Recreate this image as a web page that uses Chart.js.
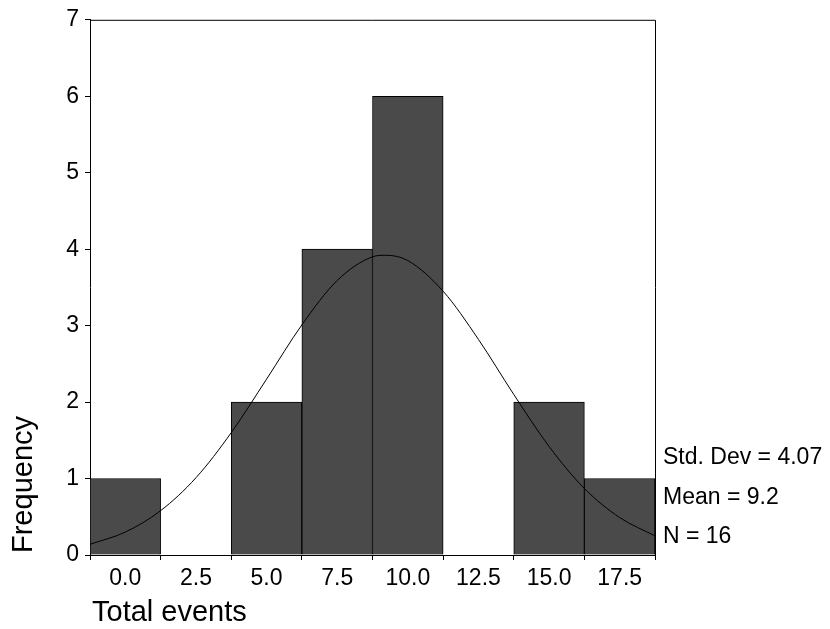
<!DOCTYPE html>
<html>
<head>
<meta charset="utf-8">
<script src="https://cdn.jsdelivr.net/npm/chart.js@4.4.1/dist/chart.umd.min.js"></script>
<style>
  html, body { margin: 0; padding: 0; background: #fff; }
  #wrap { width: 830px; height: 629px; }
</style>
</head>
<body>
<div id="wrap"><canvas id="hist"></canvas></div>
<script>
// histogram bins (centre of each 2.5-wide bin) and counts
const binCentres = [0, 2.5, 5, 7.5, 10, 12.5, 15, 17.5];
const counts = [1, 0, 2, 4, 6, 0, 2, 1];

// fitted normal curve, sampled along the x range
const curveX = [-1.25, 0, 1.25, 2.5, 3.75, 5, 6.25, 7.5, 8.75, 9.2, 10, 11.25, 12.5, 13.75, 15, 16.25, 17.5, 18.75];
const curveY = [0.14, 0.30, 0.58, 1.01, 1.60, 2.30, 3.01, 3.59, 3.90, 3.92, 3.85, 3.45, 2.82, 2.10, 1.42, 0.87, 0.49, 0.25];

const xTicks = [0, 2.5, 5, 7.5, 10, 12.5, 15, 17.5];
const yTicks = [0, 1, 2, 3, 4, 5, 6, 7];

const statLines = ['Std. Dev = 4.07', 'Mean = 9.2', 'N = 16'];

const FONT = '"Liberation Sans", Arial, sans-serif';

// frame, axis titles and summary stats
const decorations = {
  id: 'decorations',
  afterDraw(chart) {
    const { ctx, chartArea: a } = chart;
    ctx.save();
    ctx.strokeStyle = '#000';
    ctx.lineWidth = 1;
    ctx.beginPath();
    ctx.moveTo(a.left, a.top + 0.5);
    ctx.lineTo(a.right + 0.5, a.top + 0.5);
    ctx.lineTo(a.right + 0.5, a.bottom);
    ctx.stroke();

    ctx.fillStyle = '#000';
    ctx.textBaseline = 'middle';
    ctx.textAlign = 'left';
    ctx.font = '23px ' + FONT;
    const ys = [458, 498, 537];
    statLines.forEach((s, i) => ctx.fillText(s, a.right + 8, ys[i]));

    ctx.font = '29px ' + FONT;
    ctx.fillText('Total events', 92, 613);

    ctx.translate(24, 553);
    ctx.rotate(-Math.PI / 2);
    ctx.fillText('Frequency', 0, 0);
    ctx.restore();
  }
};

new Chart(document.getElementById('hist'), {
  type: 'bar',
  data: {
    datasets: [
      {
        type: 'line',
        data: curveX.map((x, i) => ({ x, y: curveY[i] })),
        borderColor: '#000',
        borderWidth: 1,
        pointRadius: 0,
        cubicInterpolationMode: 'monotone',
        fill: false,
        order: 0,
      },
      {
        type: 'bar',
        data: binCentres.map((x, i) => ({ x, y: counts[i] })),
        backgroundColor: '#4a4a4a',
        borderColor: '#000',
        borderWidth: 1,
        barPercentage: 1,
        categoryPercentage: 1,
        order: 1,
      },
    ],
  },
  options: {
    responsive: true,
    maintainAspectRatio: false,
    animation: false,
    layout: { padding: { left: 0, top: 19, right: 175, bottom: 0 } },
    plugins: { legend: { display: false }, tooltip: { enabled: false } },
    scales: {
      x: {
        type: 'linear',
        offset: false,
        min: -1.25,
        max: 18.75,
        afterBuildTicks: s => { s.ticks = xTicks.map(v => ({ value: v })); },
        afterFit: s => { s.height = 74; },
        grid: { drawOnChartArea: false, drawTicks: true, tickLength: 5, color: '#000' },
        border: { display: true, color: '#000', width: 1 },
        ticks: {
          color: '#000',
          padding: 5,
          maxRotation: 0,
          font: { family: FONT, size: 23 },
          callback: v => Number(v).toFixed(1),
        },
      },
      y: {
        min: 0,
        max: 7,
        afterBuildTicks: s => { s.ticks = yTicks.map(v => ({ value: v })); },
        afterFit: s => { s.width = 90; },
        grid: { drawOnChartArea: false, drawTicks: true, tickLength: 5, color: '#000' },
        border: { display: true, color: '#000', width: 1 },
        ticks: {
          color: '#000',
          padding: 6,
          font: { family: FONT, size: 23 },
        },
      },
    },
  },
  plugins: [decorations],
});
</script>
</body>
</html>
